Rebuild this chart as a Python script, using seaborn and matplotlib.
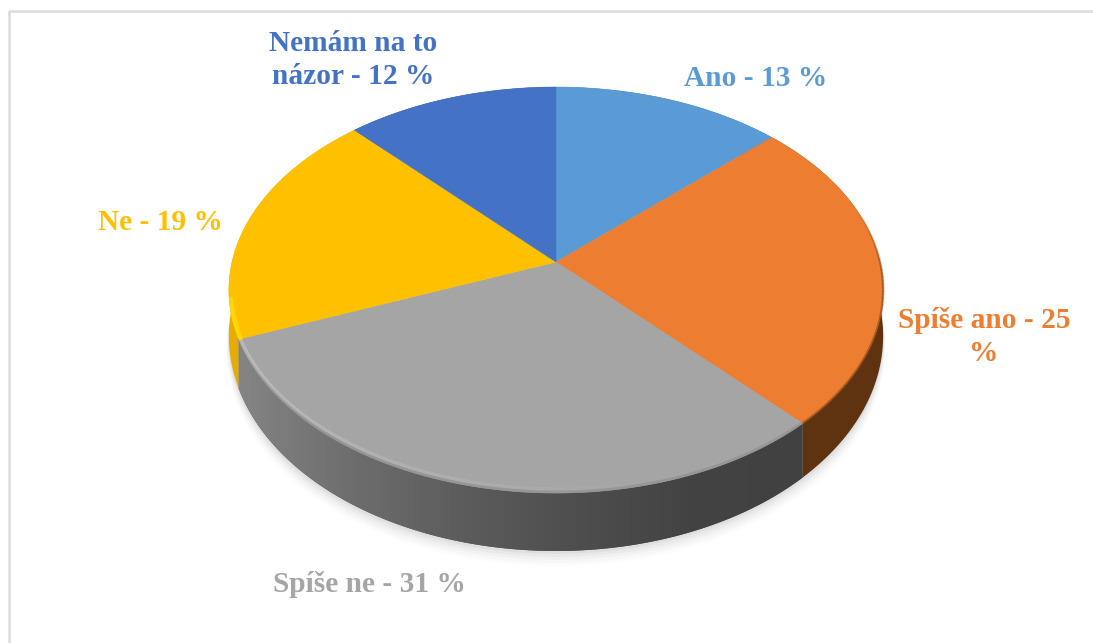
import matplotlib
matplotlib.use("Agg")
import matplotlib.pyplot as plt
import numpy as np
import seaborn as sns
from matplotlib.colors import LinearSegmentedColormap
from matplotlib.patches import Polygon

sns.set_theme(style="white")
plt.rcParams["font.family"] = ["Liberation Serif", "DejaVu Serif"]

categories = ["Ano", "Spíše ano", "Spíše ne", "Ne", "Nemám na to názor"]
shares = [13, 25, 31, 19, 12]
label_texts = ["Ano - 13 %", "Spíše ano - 25\n%", "Spíše ne - 31 %", "Ne - 19 %", "Nemám na to\nnázor - 12 %"]
colors = ["#5B9BD5", "#ED7D31", "#A5A5A5", "#FFC000", "#4472C4"]
side_colors = ["#3A5F82", "#5F3210", "#555555", "#E6AC00", "#2A4678"]
label_pos = [(755.5, 79), (984, 337), (369.5, 585), (160, 223), (353, 60)]

# tilted pie: centre, half width, perspective and rim height in pixels
cx, cy = 556, 262
gx, fy, persp = 324, 199.1, 0.138


def project(theta):
    u, v = np.cos(theta), np.sin(theta)
    w = 1 + persp * v
    return cx + gx * u / w, cy - fy * v / w


def rim_depth(theta):
    return 44 - 14 * np.sin(theta)


def arc(theta1, theta2):
    t = np.radians(np.linspace(theta1, theta2, 160))
    x, y = project(t)
    return t, x, y


fig = plt.figure(figsize=(10.93, 6.43), dpi=100)
ax = fig.add_axes([0, 0, 1, 1])

wedges, _ = ax.pie(shares, colors=colors, startangle=90, counterclock=False)
thetas = [sorted((w.theta1, w.theta2)) for w in wedges]
for w in wedges:
    w.remove()

ax.set_aspect("auto")
ax.axis("off")

# chart frame, only top and left edges are inside the crop
ax.plot([8.5, 8.5, 1093], [643, 11, 11], color="#DCDCDC", lw=1.8, zorder=1)

# soft shadow under the pie
t, x, y = arc(185, 355)
d = rim_depth(t)
lift = -np.sin(t)
for grow, alpha in zip([15, 12, 9, 6, 3], [0.012, 0.018, 0.025, 0.03, 0.04]):
    sx = x + grow * np.cos(t) * lift
    sy = y + d + grow * lift
    ax.add_patch(Polygon(np.column_stack([sx, sy]), closed=True, fc="black", ec="none", alpha=alpha, zorder=2))

# rim of each slice
gray_cmap = LinearSegmentedColormap.from_list("rim", ["#858585", "#6E6E6E", "#5C5C5C", "#4E4E4E", "#434343", "#414141"])
for (lo, hi), side in zip(thetas, side_colors):
    t = np.radians(np.linspace(lo, hi, 240))
    x, y = project(t)
    d = rim_depth(t)
    pts = np.vstack([np.column_stack([x, y]), np.column_stack([x, y + d])[::-1]])
    patch = Polygon(pts, closed=True, fc=side, ec="none", zorder=3)
    ax.add_patch(patch)
    if side == "#555555":
        grad = np.linspace(0, 1, 256).reshape(1, -1)
        img = ax.imshow(grad, cmap=gray_cmap, extent=[235, 805, 600, 300], aspect="auto", zorder=4)
        img.set_clip_path(patch)

ax.set_xlim(0, 1093)
ax.set_ylim(643, 0)

# top faces
for (lo, hi), color in zip(thetas, colors):
    t, x, y = arc(lo, hi)
    pts = np.vstack([[cx, cy], np.column_stack([x, y])])
    ax.add_patch(Polygon(pts, closed=True, fc=color, ec=color, lw=0.4, zorder=5))

# bevel along the front edge, bright on the left and fading out to the right
lo, hi = thetas[2]
t, x, y = arc(lo, hi)
frac = (t - t.min()) / (t.max() - t.min())
for i in range(len(t) - 1):
    fade = np.clip(1 - frac[i] / 0.75, 0, 1)
    ax.plot(x[i:i + 2], y[i:i + 2] - 4, color="#D0D0D0", lw=2.5, alpha=0.55 * fade,
            solid_capstyle="butt", zorder=6)
    ax.plot(x[i:i + 2], y[i:i + 2] - 1, color="#8A8A8A", lw=2, alpha=0.55,
            solid_capstyle="butt", zorder=6)

# yellow rim glint and dark orange edge, the edge fades out going up
lo, hi = thetas[3]
t, x, y = arc(hi - 11, hi)
ax.plot(x + 2, y - 1, color="#FFD800", lw=3, zorder=6)
lo, hi = thetas[1]
t, x, y = arc(lo, lo + 62)
for i in range(len(t) - 1):
    fade = np.clip((len(t) - i) / 50, 0, 1)
    ax.plot(x[i:i + 2], y[i:i + 2], color="#8A4A18", lw=1.6, alpha=0.7 * fade,
            solid_capstyle="butt", zorder=6)

for text, pos, color in zip(label_texts, label_pos, colors):
    ax.text(pos[0], pos[1], text, color=color, fontsize=21.2, fontweight="bold",
            ha="center", va="center", linespacing=1.32, zorder=7)

fig.savefig("out.png", dpi=100, facecolor="white")
plt.close(fig)
